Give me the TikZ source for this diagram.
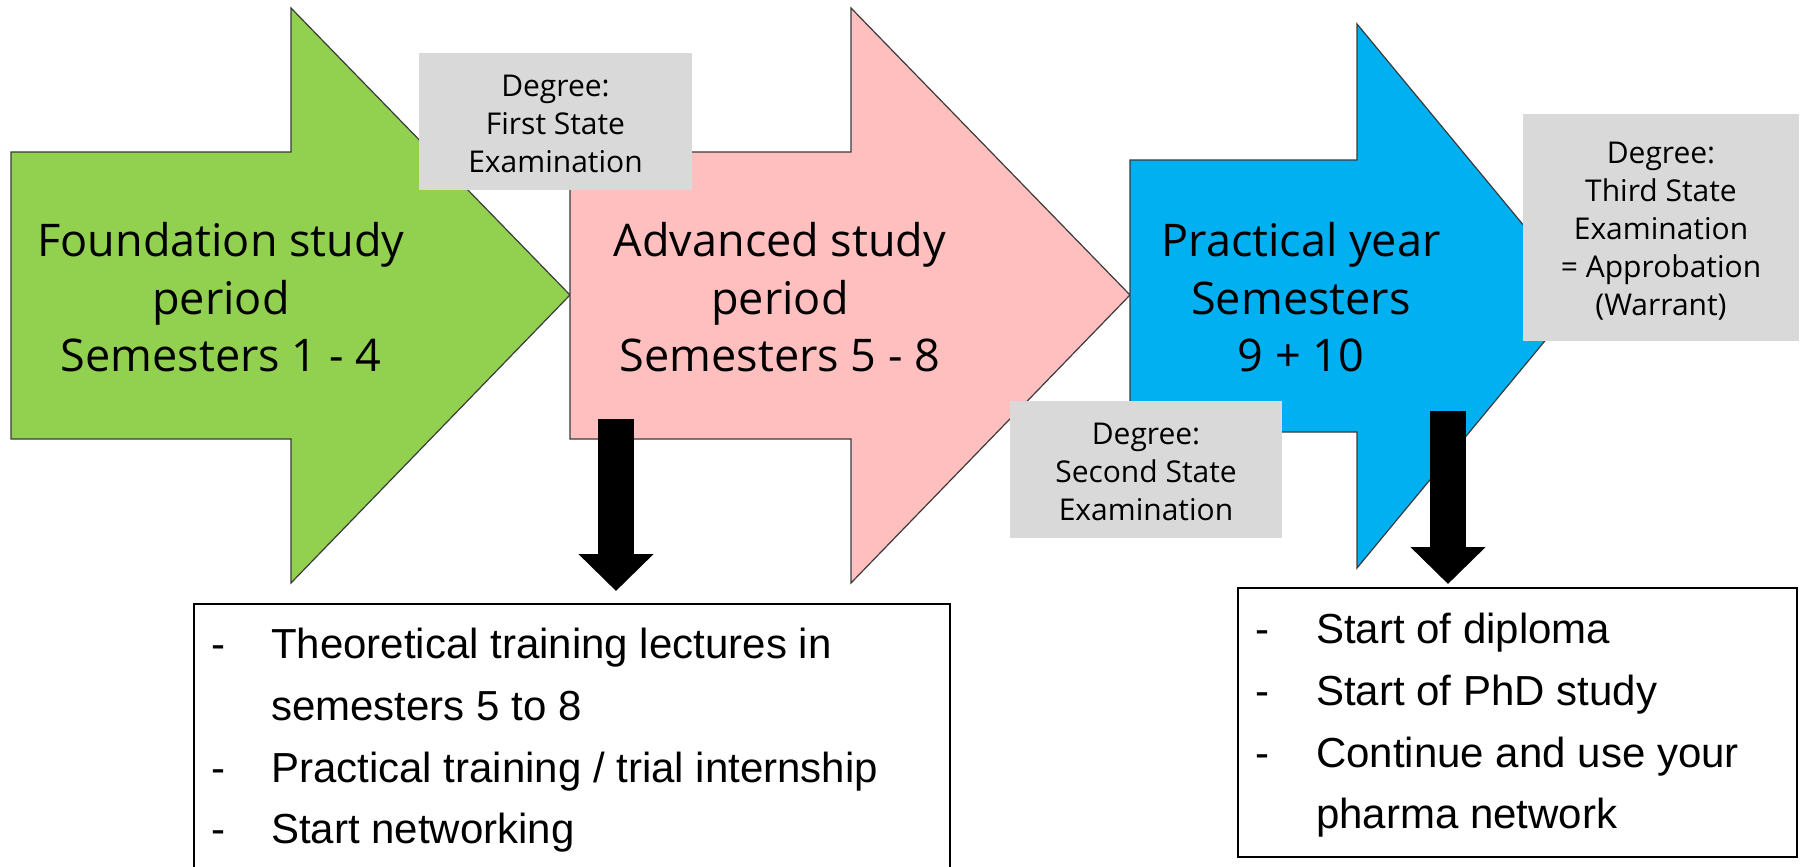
\documentclass[tikz,border=0pt]{standalone}
\usepackage{fontspec}
\setmainfont{Liberation Sans}
\newfontfamily\osans{Open Sans}
\usetikzlibrary{arrows.meta}
\definecolor{cgreen}{HTML}{92D050}
\definecolor{cpink}{HTML}{FFBFBF}
\definecolor{cblue}{HTML}{00B0F0}
\definecolor{cgray}{HTML}{D9D9D9}
\definecolor{cedge}{HTML}{3A3A3A}
\tikzset{
  bigarrow/.style={draw=cedge, line width=1.2pt, line join=miter},
  bigtext/.style={font=\osans\fontsize{45}{57.5}\selectfont, anchor=base, inner sep=0pt},
  degbox/.style={fill=cgray, draw=none, anchor=north west, inner sep=0pt},
  degtext/.style={font=\osans\fontsize{30}{38}\selectfont, anchor=base, inner sep=0pt},
  listbox/.style={draw=black, line width=2pt, anchor=north west, inner sep=0pt},
  listtext/.style={font=\fontsize{42}{62}\selectfont, anchor=base west, inner sep=0pt},
  downarrow/.style={draw=black, line width=36pt, -{Triangle[width=73pt,length=37pt]}},
}
\begin{document}
\begin{tikzpicture}[x=1pt,y=-1pt]
\useasboundingbox (0,0) rectangle (1801,867);
% big arrows
\draw[bigarrow, fill=cgreen] (11,152) -- (291,152) -- (291,8) -- (570,295) -- (291,583) -- (291,439) -- (11,439) -- cycle;
\draw[bigarrow, fill=cpink] (570,152) -- (851,152) -- (851,8) -- (1130,295) -- (851,583) -- (851,439) -- (570,439) -- cycle;
\draw[bigarrow, fill=cblue] (1130,160) -- (1357,160) -- (1357,24) -- (1582,296) -- (1357,568) -- (1357,432) -- (1130,432) -- cycle;
% arrow texts
\node[bigtext] (g1) at (221,256) {Foundation study};
\node[bigtext] (g2) at (221,314) {period};
\node[bigtext] (g3) at (221,371) {Semesters 1 - 4};
\node[bigtext] (p1) at (780,256) {Advanced study};
\node[bigtext] (p2) at (780,314) {period};
\node[bigtext] (p3) at (780,371) {Semesters 5 - 8};
\node[bigtext] (b1) at (1301,256) {Practical year};
\node[bigtext] (b2) at (1301,314) {Semesters};
\node[bigtext] (b3) at (1301,371) {9 + 10};
% degree boxes
\node[degbox, minimum width=273pt, minimum height=137pt] (deg1) at (419,53) {};
\node[degtext] (d11) at (555.5,96) {Degree:};
\node[degtext] (d12) at (555.5,134) {First State};
\node[degtext] (d13) at (555.5,172) {Examination};
\node[degbox, minimum width=272pt, minimum height=137pt] (deg2) at (1010,401) {};
\node[degtext] (d21) at (1146,444) {Degree:};
\node[degtext] (d22) at (1146,482) {Second State};
\node[degtext] (d23) at (1146,520) {Examination};
\node[degbox, minimum width=276pt, minimum height=227pt] (deg3) at (1523,114) {};
\node[degtext] (d31) at (1661,163) {Degree:};
\node[degtext] (d32) at (1661,201) {Third State};
\node[degtext] (d33) at (1661,239) {Examination};
\node[degtext] (d34) at (1661,277) {= Approbation};
\node[degtext] (d35) at (1661,315) {(Warrant)};
% down arrows
\coordinate (a1s) at (616,419);
\coordinate (a1e) at (616,591);
\coordinate (a2s) at (1448,411);
\coordinate (a2e) at (1448,584);
\draw[downarrow] (a1s) -- (a1e);
\draw[downarrow] (a2s) -- (a2e);
% list boxes
\node[listbox, minimum width=756pt, minimum height=300pt] (list1) at (193,603) {};
\node[listtext] (l1d1) at (211,658) {-};
\node[listtext] (l1t1) at (271,658) {Theoretical training lectures in};
\node[listtext] (l1t2) at (271,720) {semesters 5 to 8};
\node[listtext] (l1d2) at (211,782) {-};
\node[listtext] (l1t3) at (271,782) {Practical training / trial internship};
\node[listtext] (l1d3) at (211,843) {-};
\node[listtext] (l1t4) at (271,843) {Start networking};
\node[listbox, minimum width=559pt, minimum height=269pt] (list2) at (1237,587) {};
\node[listtext] (l2d1) at (1255,643) {-};
\node[listtext] (l2t1) at (1316,643) {Start of diploma};
\node[listtext] (l2d2) at (1255,705) {-};
\node[listtext] (l2t2) at (1316,705) {Start of PhD study};
\node[listtext] (l2d3) at (1255,767) {-};
\node[listtext] (l2t3) at (1316,767) {Continue and use your};
\node[listtext] (l2t4) at (1316,828) {pharma network};
\end{tikzpicture}
\end{document}
